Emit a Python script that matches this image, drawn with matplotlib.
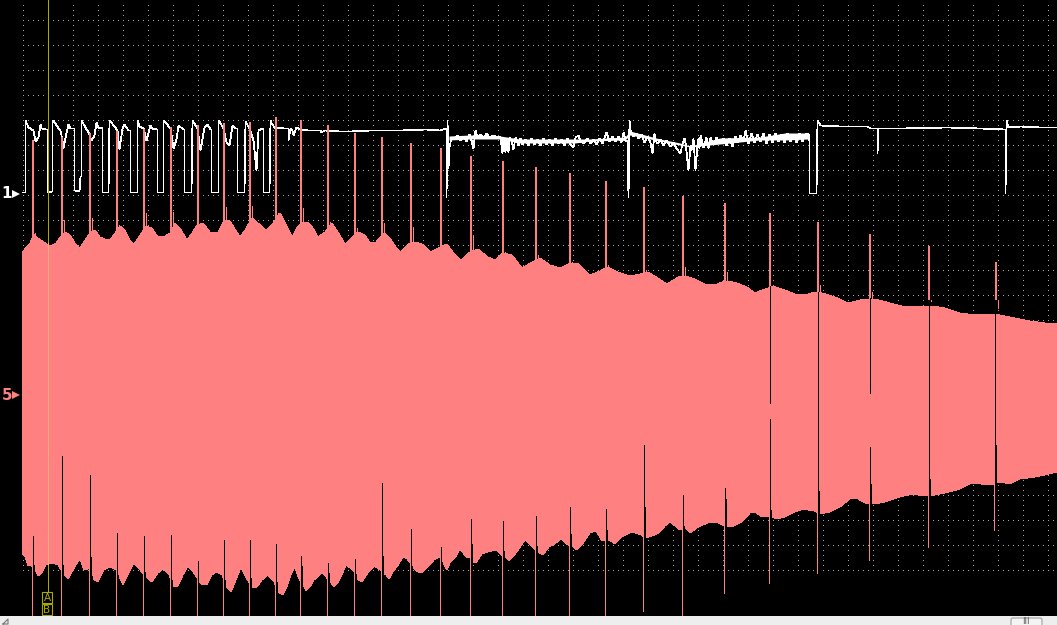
import numpy as np
import matplotlib
matplotlib.use('Agg')
import matplotlib.pyplot as plt
from matplotlib.patches import Rectangle, FancyBboxPatch

# the capture has no real units, values are read in screen samples (position, level)
upper_edge = [(22, 253), (26, 247), (30, 243), (34, 234), (38, 238), (44, 242), (50, 246), (56, 243), (60, 237),
              (65, 232), (70, 235), (75, 243), (80, 248), (85, 240), (90, 233), (95, 230), (100, 237), (105, 239),
              (110, 240), (115, 233), (120, 226), (125, 230), (130, 240), (134, 244), (140, 235), (146, 226),
              (152, 228), (158, 237), (165, 236), (170, 233), (175, 223), (180, 228), (187, 240), (192, 233),
              (197, 225), (203, 223), (210, 232), (218, 232), (224, 220), (230, 221), (240, 237), (245, 230),
              (252, 218), (258, 223), (266, 230), (273, 223), (280, 213), (285, 222), (292, 237), (298, 226),
              (303, 222), (308, 222), (313, 228), (318, 237), (325, 232), (332, 223), (338, 232), (345, 244),
              (352, 237), (358, 232), (365, 235), (370, 243), (376, 242), (384, 233), (390, 238), (396, 247),
              (401, 252), (408, 244), (416, 242), (424, 245), (431, 252), (440, 247), (447, 244), (453, 252),
              (461, 260), (470, 252), (478, 249), (488, 257), (495, 260), (503, 253), (512, 255), (522, 268),
              (532, 262), (540, 258), (550, 265), (560, 268), (570, 263), (578, 263), (590, 275), (600, 271),
              (607, 267), (618, 272), (630, 276), (640, 274), (648, 272), (658, 278), (667, 284), (675, 279),
              (680, 276), (686, 276), (695, 279), (705, 284), (715, 285), (722, 282), (728, 281), (737, 283),
              (747, 287), (755, 293), (762, 290), (768, 288), (772, 286), (782, 289), (795, 294), (805, 295),
              (815, 292), (822, 293), (835, 297), (848, 303), (860, 300), (868, 299), (875, 299), (890, 303),
              (905, 307), (925, 306), (932, 306), (945, 308), (960, 313), (975, 315), (990, 314), (1000, 315),
              (1015, 318), (1030, 321), (1045, 323), (1057, 324)]

lower_edge = [(22, 554), (25, 557), (28, 566), (31, 566), (35, 570), (38, 576), (42, 573), (46, 565), (52, 563),
              (58, 565), (64, 575), (68, 579), (72, 572), (76, 565), (80, 559), (84, 570), (91, 568), (94, 580),
              (98, 582), (104, 570), (110, 567), (116, 570), (119, 577), (123, 585), (128, 575), (134, 563),
              (140, 570), (147, 578), (152, 582), (158, 573), (163, 569), (169, 575), (174, 587), (178, 586),
              (183, 575), (188, 566), (193, 572), (202, 585), (207, 585), (212, 575), (216, 572), (222, 575),
              (227, 588), (231, 592), (236, 580), (241, 567), (246, 578), (253, 588), (257, 587), (262, 580),
              (268, 575), (274, 582), (279, 593), (283, 595), (287, 587), (291, 575), (295, 567), (298, 577),
              (303, 585), (306, 591), (310, 587), (314, 580), (318, 577), (322, 573), (326, 577), (331, 583),
              (334, 587), (338, 583), (342, 575), (346, 565), (350, 568), (354, 572), (358, 580), (362, 582),
              (368, 573), (374, 566), (380, 570), (386, 575), (389, 579), (393, 572), (398, 565), (403, 557),
              (407, 559), (410, 563), (413, 568), (418, 572), (422, 573), (428, 567), (434, 560), (440, 557),
              (444, 565), (447, 570), (450, 563), (456, 557), (460, 549), (466, 557), (470, 558), (473, 562),
              (476, 563), (482, 554), (488, 552), (496, 550), (501, 555), (505, 556), (509, 561), (513, 557),
              (519, 549), (525, 540), (530, 545), (534, 549), (538, 552), (543, 555), (549, 547), (556, 543),
              (561, 539), (568, 545), (572, 545), (576, 550), (582, 545), (590, 533), (596, 531), (602, 541),
              (609, 540), (615, 544), (622, 537), (632, 532), (641, 535), (646, 538), (655, 535), (660, 532),
              (665, 526), (670, 522), (675, 526), (680, 530), (685, 527), (690, 533), (697, 528), (703, 525),
              (710, 522), (718, 523), (722, 525), (728, 527), (734, 526), (742, 522), (750, 513), (755, 512),
              (762, 517), (767, 517), (772, 517), (776, 519), (785, 517), (795, 512), (803, 509), (814, 511),
              (820, 514), (830, 512), (840, 507), (850, 499), (858, 499), (865, 503), (875, 504), (885, 502),
              (900, 497), (912, 494), (925, 496), (935, 495), (945, 493), (960, 489), (972, 483), (990, 485),
              (1000, 482), (1010, 484), (1020, 479), (1035, 477), (1045, 475), (1057, 472)]

# one row per spike: position, top, shoulder, notch top, notch shoulder, tail end
spike_x = [33, 62, 90, 117, 144, 171, 198, 224, 250, 276, 301, 328, 355, 382, 411, 441, 471, 503, 536, 570, 606, 644,
           683, 725, 770, 818, 870, 929, 996]
spike_top = [140, 137, 133, 131, 129, 127, 125, 123, 122, 117, 120, 125, 133, 137, 143, 148, 156, 161, 167, 173, 181,
             187, 196, 203, 213, 222, 234, 246, 262]
spike_shoulder = [233, 220, 218, 225, 213, 212, 224, 207, 206, 213, 208, 222, 228, 223, 227, 245, 235, 252, 255, 262,
                  265, 270, 267, 272, 286, 285, 292, 301, 308]
notch_top = [536, 456, 475, 533, 536, 535, 561, 540, 540, 544, 556, 563, 559, 483, 529, 547, 519, 521, 516, 507, 509,
             445, 495, 488, 419, 418, 447, 406, 401]
notch_shoulder = [565, 565, 557, 575, 572, 580, 583, 580, 578, 582, 566, 573, 574, 556, 566, 562, 544, 551, 546, 534,
                  530, 507, 526, 499, 510, 491, 484, 479, 445]
tail_bottom = [616, 616, 616, 616, 616, 616, 616, 616, 616, 616, 616, 616, 616, 616, 616, 616, 616, 616, 616, 616, 616,
               611, 615, 593, 583, 573, 560, 547, 530]

# black cuts through the middle of the band on the last spikes
cut_x = [769, 817, 869, 928, 994]
cut_start = [286, 292, 298, 305, 314]
cut_end = [403, 490, 393, 478, 490]

# noisy part of channel 1: position, top, bottom of the thick white band
noise_x = [449, 470, 500, 520, 575, 590, 625, 630, 660, 680, 690, 720, 760, 785, 808]
noise_top = [136, 135, 136, 139, 139, 139, 137, 131, 139, 143, 146, 138, 137, 133, 133]
noise_bottom = [140, 139, 139, 143, 143, 141, 140, 135, 141, 145, 147, 144, 140, 140, 139]

trace_points = [(22, 192), (25, 192), (25, 120), (28, 127), (33, 130), (35, 141), (38, 137), (40, 124), (41, 128),
                (46, 129), (47, 129), (47, 192), (52, 191), (52, 120), (53, 120), (58, 128), (60, 130), (62, 140),
                (63, 148), (65, 137), (68, 124), (70, 128), (73, 128), (74, 128), (74, 190), (79, 191), (80, 176),
                (81, 176), (81, 120), (85, 127), (88, 132), (91, 140), (94, 135), (96, 122), (98, 127), (102, 128),
                (102, 192), (108, 192), (109, 120), (110, 121), (114, 126), (117, 130), (119, 149), (122, 128),
                (124, 124), (128, 130), (130, 130), (130, 192), (137, 192), (137, 120), (139, 126), (143, 128),
                (146, 140), (150, 125), (152, 128), (156, 129), (157, 129), (157, 192), (163, 192), (163, 120),
                (165, 122), (170, 128), (173, 148), (176, 139), (178, 125), (183, 129), (184, 129), (184, 192),
                (190, 192), (191, 192), (192, 120), (197, 128), (200, 150), (204, 127), (207, 124), (210, 129),
                (211, 129), (211, 192), (218, 192), (218, 120), (219, 121), (223, 128), (226, 142), (229, 145),
                (232, 125), (235, 128), (237, 128), (237, 192), (243, 192), (244, 192), (245, 121), (249, 128),
                (253, 140), (256, 170), (258, 130), (262, 128), (263, 128), (263, 192), (269, 192), (270, 120),
                (271, 123), (275, 128), (278, 127), (284, 128), (288, 128), (288, 140), (290, 128), (292, 130),
                (293, 135), (296, 127), (300, 129), (308, 130), (320, 130), (321, 132), (324, 130), (340, 131),
                (350, 131), (370, 130), (380, 130), (400, 130), (425, 129), (440, 130), (445, 128), (446, 129),
                (446, 197), (447, 120), (448, 168), (449, 147), (451, 137), (454, 139), (457, 135), (460, 140),
                (463, 136), (466, 141), (469, 134), (471, 140), (473, 148), (474, 139), (475, 130), (477, 137),
                (480, 134), (483, 138), (486, 133), (489, 137), (492, 135), (495, 136), (498, 137), (500, 136),
                (502, 153), (503, 137), (505, 152), (506, 138), (508, 152), (509, 137), (511, 140), (513, 149),
                (515, 137), (518, 145), (520, 138), (522, 144), (525, 139), (528, 145), (531, 138), (534, 144),
                (537, 139), (540, 145), (543, 138), (546, 144), (549, 139), (552, 145), (555, 138), (558, 143),
                (561, 139), (564, 145), (567, 138), (570, 144), (573, 147), (575, 137), (578, 135), (580, 141),
                (583, 143), (587, 138), (590, 143), (593, 139), (596, 144), (599, 138), (602, 143), (606, 132),
                (609, 141), (612, 136), (615, 141), (618, 136), (621, 142), (623, 132), (625, 140), (627, 141),
                (628, 197), (629, 120), (630, 130), (633, 136), (636, 133), (638, 138), (641, 134), (644, 142),
                (647, 136), (650, 142), (652, 153), (654, 133), (655, 140), (657, 143), (660, 139), (663, 145),
                (666, 140), (670, 146), (673, 142), (676, 148), (680, 153), (682, 143), (684, 138), (685, 142),
                (688, 170), (690, 145), (691, 150), (693, 138), (695, 170), (697, 145), (698, 138), (699, 148),
                (700, 135), (703, 147), (706, 137), (708, 148), (710, 137), (713, 144), (716, 137), (720, 143),
                (723, 138), (726, 145), (729, 138), (732, 146), (735, 136), (737, 142), (740, 135), (743, 141),
                (745, 130), (748, 143), (751, 133), (754, 142), (757, 134), (760, 141), (763, 133), (766, 143),
                (769, 134), (772, 142), (775, 133), (778, 141), (781, 134), (784, 142), (787, 133), (790, 141),
                (793, 134), (796, 142), (799, 133), (802, 141), (805, 134), (808, 133), (809, 141), (809, 193),
                (816, 193), (817, 120), (820, 125), (840, 126), (867, 126), (870, 128), (876, 128), (877, 128),
                (877, 153), (878, 128), (900, 128), (947, 127), (980, 128), (1003, 129), (1005, 129), (1005, 193),
                (1006, 120), (1008, 127), (1020, 126), (1040, 127), (1057, 127)]

channel_labels = ['1', '5']
channel_rows = [194, 395]
cursor_labels = ['A', 'B']

PINK = '#ff8080'
WHITE = '#ffffff'
OLIVE = '#aaaa00'
THIN = 0.55
WIDE = 1.3

fig = plt.figure(figsize=(10.57, 6.25), dpi=100, facecolor='black')
ax = fig.add_axes([0, 0, 1, 1])
ax.set_xlim(0, 1057)
ax.set_ylim(625, 0)
ax.set_facecolor('black')
ax.axis('off')

# dotted screen grid
rows = np.arange(19, 570, 25)
cols = np.arange(22, 1050, 25)
for r in rows:
    xs = np.arange(22, 1054, 5)
    ax.plot(xs + 0.5, np.full(len(xs), r + 0.5), ls='none', marker='s', ms=0.72, mew=0, color='#a8a8a8', zorder=1)
for c in cols:
    ys = np.arange(4, 570, 5)
    ax.plot(np.full(len(ys), c + 0.5), ys + 0.5, ls='none', marker='s', ms=0.72, mew=0, color='#a8a8a8', zorder=1)

# channel 1
trace_x, trace_y = zip(*trace_points)
ax.plot(np.array(trace_x) + 0.5, np.array(trace_y) + 0.5, color=WHITE, lw=THIN, antialiased=False,
        solid_joinstyle='miter', zorder=2)
ax.fill_between(noise_x, noise_top, noise_bottom, color=WHITE, lw=0, antialiased=False, zorder=2)

# channel 5 band
upper_x, upper_y = zip(*upper_edge)
lower_x, lower_y = zip(*lower_edge)
ax.fill(upper_x + lower_x[::-1], upper_y + lower_y[::-1], color=PINK, lw=0, antialiased=False, zorder=3)
ax.vlines(np.array(spike_x), spike_top, 300, color=PINK, lw=WIDE, antialiased=False, zorder=3)
ax.vlines(np.array(spike_x) + 1.5, spike_shoulder, 300, color=PINK, lw=THIN, antialiased=False, zorder=3)
notch_x = np.array(spike_x, dtype=float)
notch_x[-1] = 995
ax.vlines(notch_x - 0.5, notch_top, 616, color='black', lw=THIN, antialiased=False, zorder=4)
ax.vlines(notch_x + 0.5, notch_shoulder, 616, color='black', lw=THIN, antialiased=False, zorder=4)
ax.vlines(notch_x - 1.5, 470, tail_bottom, color=PINK, lw=THIN, antialiased=False, zorder=5)
ax.vlines(np.array(cut_x) + 0.5, cut_start, cut_end, color='black', lw=THIN, antialiased=False, zorder=4)

# cursor
ax.vlines(47.5, 0, 592, color=OLIVE, lw=THIN, antialiased=False, zorder=6)
ax.vlines(47.5, 243, 564, color='#ffaa78', lw=THIN, antialiased=False, zorder=7)
for i in range(2):
    ax.add_patch(Rectangle((42, 592 + i * 12), 10, 11, fc='black', ec=OLIVE, lw=0.8, zorder=8))
    ax.text(47, 598 + i * 12, cursor_labels[i], color=OLIVE, fontsize=7.5, family='DejaVu Sans', ha='center',
            va='center', zorder=9)

# channel markers at the left
label_colors = [WHITE, PINK]
for i in range(2):
    ax.text(7, channel_rows[i], channel_labels[i], color=label_colors[i], fontsize=11, fontweight='bold',
            family='DejaVu Sans', ha='center', va='center', zorder=8)
    ax.plot(15.5, channel_rows[i], marker='>', ms=6, mew=0, color=label_colors[i], zorder=8)

# window scrollbar along the bottom
ax.add_patch(Rectangle((0, 616), 1057, 9, fc='#eeeeee', ec='none', zorder=9))
ax.add_patch(FancyBboxPatch((1011, 618), 31, 10, boxstyle='round,pad=0,rounding_size=2', fc='#f4f4f4',
                            ec='#a0a0a0', lw=0.8, zorder=10))
ax.text(1026, 622, 'III', color='#555555', fontsize=6, family='DejaVu Sans', ha='center', va='center', zorder=11)
ax.plot([3, 8, 8, 3], [624, 624, 619, 624], color='#777777', lw=0.8, zorder=11)

fig.savefig('out.png', dpi=100, facecolor='black')
